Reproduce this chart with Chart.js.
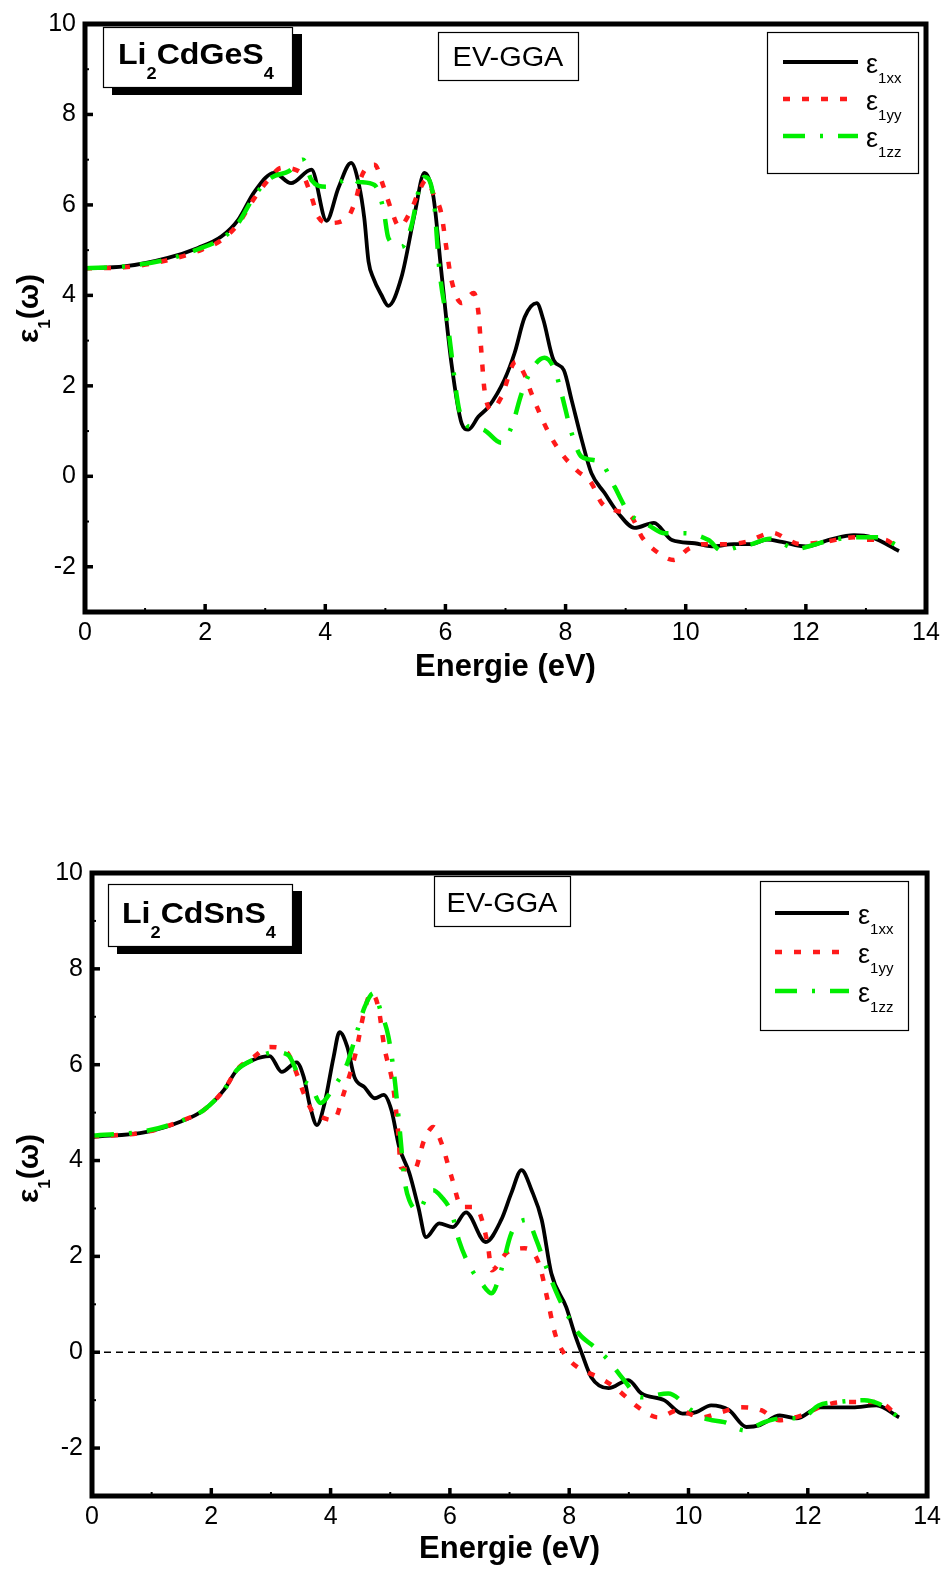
<!DOCTYPE html>
<html><head><meta charset="utf-8">
<script src="https://cdn.jsdelivr.net/npm/chart.js@4.4.1/dist/chart.umd.min.js"></script>
<style>
html,body{margin:0;padding:0;background:#fff;}
#wrap{position:relative;width:947px;height:1571px;overflow:hidden;background:#fff;}
canvas{position:absolute;left:0;}
#c1{top:0;} #c2{top:760px;}
</style></head><body><div id="wrap"><canvas id="c1"></canvas><canvas id="c2"></canvas></div>
<script>
// ---------- tick labels ----------
const xTicks = [0, 2, 4, 6, 8, 10, 12, 14];
const yTicks = [-2, 0, 2, 4, 6, 8, 10];
const xTitle = 'Energie (eV)';
const seriesNames = ['1xx', '1yy', '1zz'];

// ---------- Li2CdGeS4 (top panel) ----------
const geXX_E = [0,0.65,1.38,1.88,2.27,2.55,2.82,3.15,3.43,3.77,4.02,4.22,4.43,4.56,4.65,4.72,4.8,4.93,5.05,5.27,5.49,5.65,5.8,5.93,6.1,6.27,6.38,6.55,6.72,6.98,7.15,7.32,7.52,7.63,7.8,7.97,8.1,8.27,8.43,8.65,8.88,9.15,9.47,9.77,10.15,10.43,10.8,11.1,11.35,11.6,12.0,12.4,12.8,13.1,13.55];
const geXX_V = [4.6,4.64,4.83,5.05,5.3,5.67,6.29,6.71,6.48,6.78,5.65,6.38,6.93,6.45,5.7,4.75,4.38,4.02,3.77,4.41,5.82,6.71,6.18,4.55,2.5,1.17,1.03,1.32,1.54,2.13,2.72,3.52,3.83,3.46,2.57,2.35,1.69,0.8,0.07,-0.37,-0.82,-1.14,-1.03,-1.41,-1.48,-1.55,-1.5,-1.5,-1.4,-1.45,-1.55,-1.4,-1.3,-1.35,-1.65];
const geYY_E = [0,0.65,1.38,1.88,2.27,2.55,2.82,3.05,3.27,3.6,3.77,3.88,4.07,4.38,4.52,4.6,4.82,4.97,5.1,5.23,5.43,5.55,5.68,5.82,5.93,6.02,6.1,6.27,6.47,6.55,6.6,6.65,6.77,6.93,7.17,7.32,7.43,7.72,7.93,8.18,8.43,8.6,8.82,9.1,9.27,9.55,9.8,10.05,10.3,10.7,11.0,11.45,11.7,11.9,12.3,12.8,13.0,13.3,13.55];
const geYY_V = [4.6,4.62,4.78,4.98,5.22,5.58,6.15,6.55,6.82,6.71,6.18,5.74,5.6,5.74,6.18,6.62,6.89,6.4,5.89,5.52,5.89,6.27,6.55,6.18,5.82,5.01,4.34,3.83,4.05,3.61,2.72,1.91,1.47,1.75,2.53,2.24,1.84,0.96,0.51,0.14,-0.15,-0.59,-0.75,-0.9,-1.34,-1.7,-1.85,-1.6,-1.5,-1.5,-1.45,-1.25,-1.4,-1.5,-1.45,-1.35,-1.4,-1.4,-1.6];
const geZZ_E = [0,0.65,1.38,1.88,2.27,2.55,2.82,3.1,3.4,3.63,3.77,4.02,4.32,4.43,4.55,4.82,4.97,5.05,5.27,5.43,5.57,5.65,5.8,5.9,6.05,6.22,6.35,6.43,6.65,6.93,7.1,7.27,7.43,7.65,7.82,7.93,8.1,8.27,8.57,8.82,8.93,9.05,9.38,9.65,9.98,10.38,10.6,10.9,11.1,11.4,11.85,12.3,12.8,13.2,13.55];
const geZZ_V = [4.6,4.64,4.8,5.02,5.25,5.6,6.2,6.6,6.75,7.0,6.55,6.4,6.55,6.6,6.51,6.44,5.89,5.27,5.07,5.52,6.4,6.62,6.18,4.56,3.24,1.53,1.13,1.09,1.02,0.74,1.09,1.84,2.35,2.62,2.35,1.84,0.96,0.43,0.32,-0.24,-0.53,-0.81,-1.08,-1.26,-1.26,-1.41,-1.65,-1.55,-1.5,-1.38,-1.6,-1.45,-1.35,-1.35,-1.55];

// ---------- Li2CdSnS4 (bottom panel) ----------
const snXX_E = [0,0.92,1.48,1.87,2.21,2.43,2.7,2.98,3.18,3.43,3.55,3.66,3.77,3.9,4.05,4.15,4.28,4.4,4.57,4.74,4.89,5.02,5.15,5.32,5.47,5.6,5.82,6.05,6.27,6.6,6.86,7.03,7.2,7.37,7.54,7.7,7.95,8.09,8.21,8.37,8.66,8.99,9.21,9.59,9.9,10.13,10.38,10.68,10.97,11.2,11.53,11.81,12.2,12.75,13.15,13.53];
const snXX_V = [4.49,4.6,4.81,5.05,5.47,5.89,6.1,6.18,5.85,6.05,5.74,5.11,4.74,5.2,6.16,6.68,6.37,5.74,5.53,5.3,5.37,5.05,4.28,3.74,3.03,2.4,2.69,2.61,2.92,2.3,2.76,3.32,3.8,3.38,2.76,1.65,0.94,0.39,-0.02,-0.52,-0.75,-0.58,-0.86,-1.0,-1.28,-1.25,-1.11,-1.21,-1.56,-1.52,-1.32,-1.38,-1.15,-1.15,-1.11,-1.36];
const snYY_E = [0,0.92,1.48,1.87,2.21,2.43,2.7,2.98,3.27,3.43,3.55,3.72,3.83,4.05,4.22,4.42,4.57,4.68,4.8,4.9,5.05,5.13,5.18,5.4,5.57,5.72,5.86,6.03,6.2,6.39,6.5,6.64,6.7,6.95,7.25,7.49,7.65,7.76,7.91,8.16,8.49,8.76,9.16,9.49,9.83,10.21,10.55,10.88,11.22,11.52,11.89,12.28,12.61,13.18,13.53];
const snYY_V = [4.5,4.6,4.82,5.05,5.47,5.9,6.15,6.37,6.26,5.82,5.4,4.98,4.91,4.84,5.4,6.24,7.14,7.49,7.2,6.37,5.53,4.63,3.86,3.8,4.43,4.7,4.36,3.65,3.03,3.03,2.9,2.2,1.71,2.07,2.17,1.86,1.02,0.4,-0.02,-0.33,-0.52,-0.73,-1.15,-1.36,-1.21,-1.36,-1.25,-1.15,-1.21,-1.42,-1.32,-1.11,-1.04,-1.04,-1.36];
const snZZ_E = [0,0.92,1.48,1.87,2.21,2.43,2.7,3.06,3.29,3.48,3.68,3.83,4.05,4.28,4.45,4.57,4.72,4.85,4.97,5.07,5.16,5.24,5.32,5.47,5.64,5.72,5.86,6.03,6.15,6.33,6.53,6.7,6.86,7.03,7.29,7.45,7.59,7.82,7.99,8.16,8.43,8.66,8.88,9.21,9.66,10.05,10.27,10.6,10.94,11.27,11.55,11.89,12.18,12.51,12.95,13.18,13.53];
const snZZ_V = [4.52,4.62,4.82,5.05,5.47,5.89,6.1,6.26,6.2,5.74,5.53,5.2,5.53,6.03,6.72,7.2,7.49,7.08,6.58,5.74,4.63,3.59,3.17,2.96,3.32,3.38,3.24,2.9,2.34,1.8,1.44,1.23,1.71,2.48,2.76,2.34,1.86,1.15,0.73,0.39,0.1,-0.17,-0.52,-0.94,-0.86,-1.21,-1.38,-1.46,-1.63,-1.46,-1.38,-1.38,-1.11,-1.04,-1.0,-1.07,-1.36];
const zeroLine_E = [0, 14];
const zeroLine_V = [0, 0];

// ---------- helpers ----------
const FONT = '"Liberation Sans", Arial, sans-serif';
const pts = (E, V) => E.map((e, i) => ({x: e, y: V[i]}));

function runs(ctx, x, y, list, sx, rot) {
  ctx.save();
  ctx.translate(x, y);
  if (rot) ctx.rotate(rot);
  ctx.scale(sx, 1);
  ctx.fillStyle = '#000';
  ctx.textBaseline = 'alphabetic';
  ctx.textAlign = 'left';
  let cx = 0;
  for (const r of list) {
    ctx.font = r.font;
    ctx.fillText(r.t, cx, r.dy || 0);
    cx += ctx.measureText(r.t).width;
  }
  ctx.restore();
}

function makeDeco(d) {
  return {
    id: 'deco',
    afterDraw(chart) {
      const ctx = chart.ctx, a = chart.chartArea;
      const xs = chart.scales.x, ys = chart.scales.y;
      ctx.save();
      // inward tick marks
      ctx.strokeStyle = '#000';
      for (let v = 0; v <= 14; v++) {
        const px = xs.getPixelForValue(v);
        const major = v % 2 === 0;
        ctx.lineWidth = major ? 3.5 : 2;
        ctx.beginPath(); ctx.moveTo(px, a.bottom); ctx.lineTo(px, a.bottom - (major ? 8 : 4)); ctx.stroke();
      }
      for (let v = -2; v <= 9; v++) {
        const py = ys.getPixelForValue(v);
        const major = v % 2 === 0;
        ctx.lineWidth = major ? 3.5 : 2;
        ctx.beginPath(); ctx.moveTo(a.left, py); ctx.lineTo(a.left + (major ? 8 : 4), py); ctx.stroke();
      }
      // frame
      ctx.lineWidth = 5;
      ctx.strokeRect(a.left, a.top, a.right - a.left, a.bottom - a.top);

      // formula box with shadow
      const f = d.formula;
      ctx.fillStyle = '#000';
      ctx.fillRect(f.x0 + 9, f.y0 + 7, f.x1 - f.x0 + 1, f.y1 - f.y0 + 1);
      ctx.fillStyle = '#fff';
      ctx.fillRect(f.x0, f.y0, f.x1 - f.x0, f.y1 - f.y0);
      ctx.lineWidth = 1.2; ctx.strokeStyle = '#000';
      ctx.strokeRect(f.x0 + 0.5, f.y0 + 0.5, f.x1 - f.x0, f.y1 - f.y0);
      const B = 'bold 30px ' + FONT, S = 'bold 17px ' + FONT;
      runs(ctx, f.tx, f.ty, [
        {t: 'Li', font: B}, {t: '2', font: S, dy: 15},
        {t: f.mid, font: B}, {t: '4', font: S, dy: 15}], 1.07);

      // EV-GGA box
      const g = d.gga;
      ctx.fillStyle = '#fff';
      ctx.fillRect(g.x0, g.y0, g.x1 - g.x0, g.y1 - g.y0);
      ctx.lineWidth = 1.2; ctx.strokeStyle = '#000';
      ctx.strokeRect(g.x0 + 0.5, g.y0 + 0.5, g.x1 - g.x0, g.y1 - g.y0);
      ctx.font = '27px ' + FONT;
      const gw = ctx.measureText('EV-GGA').width * 1.07;
      runs(ctx, (g.x0 + g.x1) / 2 - gw / 2, g.ty, [{t: 'EV-GGA', font: '27px ' + FONT}], 1.07);

      // legend
      const L = d.legend;
      ctx.fillStyle = '#fff';
      ctx.fillRect(L.x0, L.y0, L.x1 - L.x0, L.y1 - L.y0);
      ctx.lineWidth = 1.2; ctx.strokeStyle = '#000';
      ctx.strokeRect(L.x0 + 0.5, L.y0 + 0.5, L.x1 - L.x0, L.y1 - L.y0);
      chart.data.datasets.slice(0, 3).forEach((ds, i) => {
        const y = L.ly[i];
        ctx.save();
        ctx.strokeStyle = ds.borderColor;
        ctx.lineWidth = ds.borderWidth;
        ctx.setLineDash(ds.borderDash || []);
        ctx.lineCap = 'butt';
        ctx.beginPath(); ctx.moveTo(L.lx0, y); ctx.lineTo(L.lx1, y); ctx.stroke();
        ctx.restore();
        runs(ctx, L.tx, y + 11, [
          {t: 'ε', font: '27px ' + FONT},
          {t: seriesNames[i], font: '15px ' + FONT, dy: 10}], 1.0);
      });

      // y-axis title  ε1(ω)
      runs(ctx, d.ytitle.x, d.ytitle.y, [
        {t: 'ε', font: 'bold 30px ' + FONT},
        {t: '1', font: 'bold 17px ' + FONT, dy: 12},
        {t: '(ω)', font: 'bold 30px ' + FONT}], 1.0, -Math.PI / 2);
      ctx.restore();
    }
  };
}

function makeChart(id, H, area, datasets, deco, titlePad) {
  const cv = document.getElementById(id);
  cv.width = 947; cv.height = H;
  cv.style.width = '947px'; cv.style.height = H + 'px';
  return new Chart(cv, {
    type: 'line',
    data: {datasets},
    options: {
      responsive: false, animation: false, devicePixelRatio: 1,
      layout: {padding: {left: 0, top: area.top, right: 947 - area.right, bottom: 0}},
      plugins: {legend: {display: false}, tooltip: {enabled: false}},
      elements: {point: {radius: 0}, line: {cubicInterpolationMode: 'monotone', borderCapStyle: 'butt'}},
      scales: {
        x: {
          type: 'linear', min: 0, max: 14,
          grid: {display: false, drawTicks: false}, border: {display: false},
          afterBuildTicks: s => { s.ticks = xTicks.map(v => ({value: v})); },
          afterFit: s => { s.height = H - area.bottom; },
          ticks: {color: '#000', font: {family: FONT, size: 25}, padding: 6, maxRotation: 0, autoSkip: false,
                  callback: v => String(v)},
          title: {display: true, text: xTitle, color: '#000',
                  font: {family: FONT, size: 31, weight: 'bold'}, padding: {top: 0, bottom: titlePad}}
        },
        y: {
          type: 'linear', min: -3, max: 10,
          grid: {display: false, drawTicks: false}, border: {display: false},
          afterBuildTicks: s => { s.ticks = yTicks.map(v => ({value: v})); },
          afterFit: s => { s.width = area.left; },
          ticks: {color: '#000', font: {family: FONT, size: 25}, padding: 9, autoSkip: false,
                  callback: v => String(v)}
        }
      }
    },
    plugins: [deco]
  });
}

const RED = '#ff1a1a', GREEN = '#00ee00';
function seriesSet(eX, vX, eY, vY, eZ, vZ) {
  return [
    {data: pts(eX, vX), borderColor: '#000', borderWidth: 3.8, order: 3},
    {data: pts(eY, vY), borderColor: RED, borderWidth: 4.5, borderDash: [7, 12], order: 2},
    {data: pts(eZ, vZ), borderColor: GREEN, borderWidth: 4.5, borderDash: [22, 15, 3, 15], order: 1}
  ];
}

// top chart
makeChart('c1', 720, {left: 85, right: 926, top: 22, bottom: 612},
  seriesSet(geXX_E, geXX_V, geYY_E, geYY_V, geZZ_E, geZZ_V),
  makeDeco({
    formula: {x0: 103, y0: 27, x1: 292, y1: 87, tx: 118, ty: 64, mid: 'CdGeS'},
    gga: {x0: 438, y0: 32, x1: 578, y1: 80, ty: 66},
    legend: {x0: 767, y0: 32, x1: 918, y1: 173, lx0: 783, lx1: 858, ly: [62, 99, 136], tx: 866},
    ytitle: {x: 38, y: 343}
  }), 34);

// bottom chart (canvas top = 760)
const off = 760;
const bottomSets = seriesSet(snXX_E, snXX_V, snYY_E, snYY_V, snZZ_E, snZZ_V);
bottomSets.push({data: pts(zeroLine_E, zeroLine_V), borderColor: '#000', borderWidth: 1.3,
  borderDash: [7, 5], order: 4, cubicInterpolationMode: 'default', tension: 0});
makeChart('c2', 811, {left: 92, right: 928, top: 873 - off, bottom: 1496 - off},
  bottomSets,
  makeDeco({
    formula: {x0: 108, y0: 884 - off, x1: 292, y1: 946 - off, tx: 122, ty: 923 - off, mid: 'CdSnS'},
    gga: {x0: 434, y0: 876 - off, x1: 570, y1: 926 - off, ty: 912 - off},
    legend: {x0: 760, y0: 881 - off, x1: 908, y1: 1030 - off, lx0: 775, lx1: 849, ly: [913 - off, 952 - off, 991 - off], tx: 858},
    ytitle: {x: 38, y: 1203 - off}
  }), 3);
</script></body></html>
